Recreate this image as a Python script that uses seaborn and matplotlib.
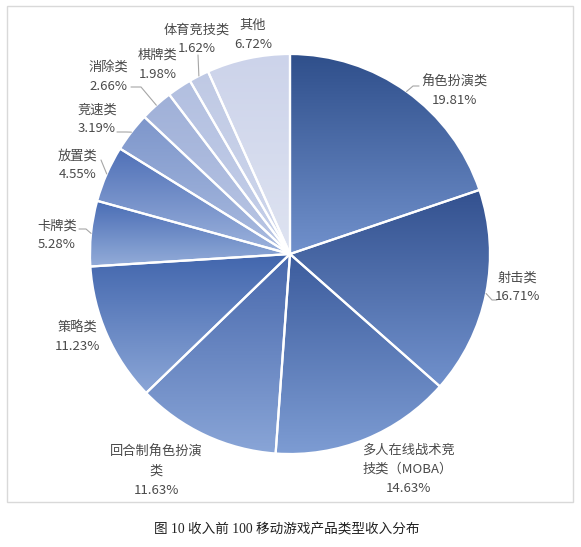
import numpy as np
import matplotlib
matplotlib.use('Agg')
import matplotlib.pyplot as plt
from matplotlib.patches import Rectangle
import seaborn as sns

categories = ['角色扮演类', '射击类', '多人在线战术竞技类（MOBA）', '回合制角色扮演类', '策略类',
              '卡牌类', '放置类', '竞速类', '消除类', '棋牌类', '体育竞技类', '其他']
shares = [19.81, 16.71, 14.63, 11.63, 11.23, 5.28, 4.55, 3.19, 2.66, 1.98, 1.62, 6.72]
label_lines = [['角色扮演类'], ['射击类'], ['多人在线战术竞', '技类（MOBA）'], ['回合制角色扮演', '类'],
               ['策略类'], ['卡牌类'], ['放置类'], ['竞速类'], ['消除类'], ['棋牌类'], ['体育竞技类'], ['其他']]
caption = '图 10 收入前 100 移动游戏产品类型收入分布'

# gradient colours per slice, top -> bottom
top_colors = ['#2f4f8b', '#33518f', '#3c5c9d', '#4868ac', '#4266ad', '#4a6db5',
              '#4f70b7', '#7d96cb', '#9fb0d8', '#b2bfe0', '#bfc9e4', '#ccd3ea']
bottom_colors = ['#7191cc', '#7191cc', '#7d9cd3', '#89a5d7', '#8ba6d7', '#94add9',
                 '#9db3dd', '#abbce0', '#bbc7e5', '#c7d1ea', '#d0d8ed', '#dee3f1']

# label layout in pixels: centre x, first line y, leader path (None = no leader)
label_pos = [(454, 82), (517, 278), (408, 450), (156, 452), (77, 328), (57, 226),
             (78, 156), (97, 110), (108, 67), (158, 55), (197, 30), (253, 25)]
leaders = [[(413, 86), (419, 86)], [(492, 300), (497, 300)], None, None, None,
           [(86, 229), (79, 229)], [(101, 160)], [(126, 132), (117, 132)],
           [(141, 87), (131, 87)], None, [(198, 55)], None]

W, H = 581, 547
cx, cy, R = 290, 254, 200
line_gap = 19


def px(x, y):
    return x, H - y


sns.set_theme(style='white')
plt.rcParams['font.family'] = ['Noto Sans CJK SC', 'DejaVu Sans']

fig = plt.figure(figsize=(W / 100, H / 100), dpi=100)
ax = fig.add_axes([0, 0, 1, 1])

wedges, _ = ax.pie(shares, startangle=90, counterclock=False, center=px(cx, cy), radius=R,
                   wedgeprops=dict(edgecolor='white', linewidth=1.6, facecolor='none'))

for w, c_top, c_bot in zip(wedges, top_colors, bottom_colors):
    ext = w.get_path().get_extents()
    grad = np.array(sns.blend_palette([c_top, c_bot], n_colors=256))[:, None, :]
    img = ax.imshow(grad, extent=(ext.x0, ext.x1, ext.y0, ext.y1), origin='upper',
                    interpolation='bilinear', aspect='auto', zorder=1)
    img.set_clip_path(w)
    w.set_zorder(2)

txt_color = '#4a4a4a'
for w, share, lines, (lx, ly), lead in zip(wedges, shares, label_lines, label_pos, leaders):
    rows = lines + [f'{share:.2f}%']
    for i, t in enumerate(rows):
        ax.text(*px(lx, ly + i * line_gap), t, ha='center', va='center', fontsize=9.5,
                color=txt_color, zorder=4)
    if lead is not None:
        mid = np.deg2rad((w.theta1 + w.theta2) / 2)
        start = (cx + R * np.cos(mid), cy - R * np.sin(mid))
        pts = [start] + lead
        xs = [p[0] for p in pts]
        ys = [H - p[1] for p in pts]
        ax.plot(xs, ys, color='#a6a6a6', lw=0.8, zorder=3)

ax.add_patch(Rectangle(px(7, 502), 566, 496, fill=False, edgecolor='#d9d9d9', lw=1, zorder=0))

ax.text(*px(287, 530), caption, ha='center', va='center', fontsize=9.8, color='#222222',
        family=['Liberation Serif', 'Noto Sans CJK SC'])

ax.set_xlim(0, W)
ax.set_ylim(0, H)
ax.axis('off')

fig.savefig('out.png', dpi=100, facecolor='white')
